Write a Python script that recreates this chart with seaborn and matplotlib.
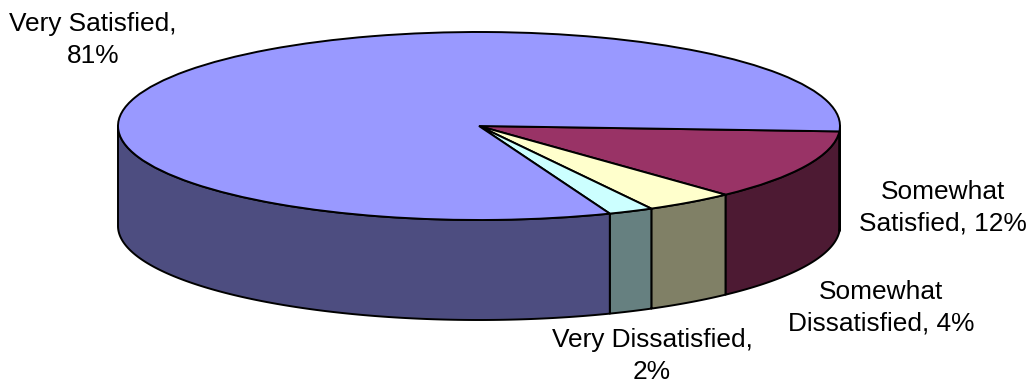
import numpy as np
import matplotlib
matplotlib.use("Agg")
import matplotlib.pyplot as plt
import seaborn as sns

sns.set_theme(style="white")
plt.rcParams['font.family'] = ['Liberation Sans', 'DejaVu Sans']

# Survey responses, clockwise from the right-hand edge of the pie
categories = ["Somewhat Satisfied", "Somewhat Dissatisfied", "Very Dissatisfied", "Very Satisfied"]
shares = [12, 4, 2, 81]
top_colors = ["#993366", "#FFFFCC", "#CCFFFF", "#9999FF"]
side_colors = ["#4D1A33", "#808066", "#668080", "#4D4D80"]
label_texts = ["Somewhat\nSatisfied, 12%", "Somewhat\nDissatisfied, 4%", "Very Dissatisfied,\n2%", "Very Satisfied,\n81%"]
label_anchor = [(943, 208), (881, 308), (652, 356), (93, 40)]

W, H = 1035, 388
RX, RY = 361.0, 94.0
CX, CY = 479.0, 126.0
DEPTH = 100.0 / RY
START = -3.3

fig = plt.figure(figsize=(W / 100, H / 100), dpi=100)
ax = fig.add_axes([0, 0, 1, 1])

# Extruded rim: only the part of each slice's arc on the near half is visible
bounds = START - np.cumsum([0] + shares) / sum(shares) * 360
for hi, lo, col in zip(bounds[:-1], bounds[1:], side_colors):
    for a, b in ((-180, 0), (-540, -360)):
        t0, t1 = max(lo, a), min(hi, b)
        if t1 <= t0:
            continue
        th = np.radians(np.linspace(t1, t0, 200))
        x, y = np.cos(th), np.sin(th)
        ax.fill(np.r_[x, x[::-1]], np.r_[y, y[::-1] - DEPTH], facecolor=col,
                edgecolor="black", lw=1.4, joinstyle="round", zorder=1)

# Top face
wedges, _ = ax.pie(shares, colors=top_colors, startangle=START, counterclock=False,
                   radius=1, center=(0, 0), normalize=True,
                   wedgeprops=dict(edgecolor="black", linewidth=1.4, zorder=2))

ax.set_aspect("auto")
ax.set_xlim(-CX / RX, (W - CX) / RX)
ax.set_ylim((CY - H) / RY, CY / RY)
ax.axis("off")

for txt, (px, py) in zip(label_texts, label_anchor):
    ax.text((px - CX) / RX, (CY - py) / RY, txt, ha="center", va="center",
            fontsize=18.9, color="black", linespacing=1.4, zorder=3)

fig.savefig("out.png", dpi=100, facecolor="white")
